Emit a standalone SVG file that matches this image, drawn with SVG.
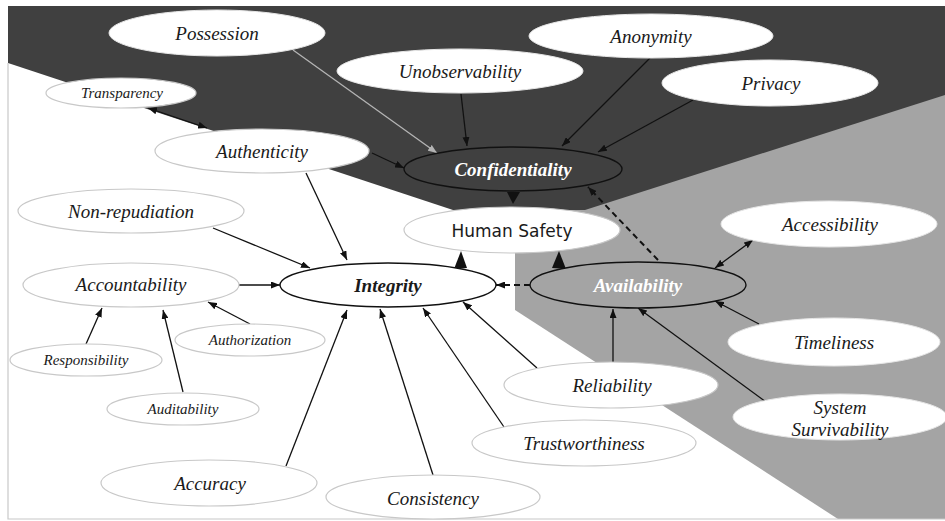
<svg xmlns="http://www.w3.org/2000/svg" width="945" height="521" viewBox="0 0 945 521">
<defs>
<style>
.t{font-family:"Liberation Serif","Times New Roman",serif;font-style:italic;font-size:19px;fill:#1a1a1a;text-anchor:middle}
.s{font-size:15px}
.b{font-weight:bold}
.lt{fill:#fff;stroke:#c8c8c8;stroke-width:1.2}
.wd{fill:#fff;stroke:#e6e6e6;stroke-width:1}
.main{stroke:#111;stroke-width:1.4}
.c{stroke:#111;stroke-width:1.3;fill:none}
.d{stroke:#111;stroke-width:2;stroke-dasharray:6,4;fill:none}
</style>
<marker id="a" viewBox="0 0 9 7" refX="9" refY="3.5" markerWidth="9" markerHeight="7" markerUnits="userSpaceOnUse" orient="auto-start-reverse"><path d="M0,0 L9,3.5 L0,7 z" fill="#111"/></marker>
<marker id="g" viewBox="0 0 9 7" refX="9" refY="3.5" markerWidth="9" markerHeight="7" markerUnits="userSpaceOnUse" orient="auto"><path d="M0,0 L9,3.5 L0,7 z" fill="#b4b4b4"/></marker>
</defs>
<rect x="0" y="0" width="945" height="521" fill="#fff"/>
<g id="background">
<polygon points="515,205 945,60 945,519 838,519 515,310" fill="#a4a4a4"/>
<polygon points="8,6 945,6 945,95 585,210 453,210 8,63" fill="#404040"/>
<polyline points="8,63 8,519 945,519" fill="none" stroke="#c8c8c8" stroke-width="1.2"/>
</g>
<g id="connectors">
<line x1="293" y1="50" x2="437" y2="153" stroke="#b4b4b4" stroke-width="1.3" marker-end="url(#g)"/>
<line class="c" x1="461" y1="94" x2="467" y2="146" marker-end="url(#a)"/>
<line class="c" x1="650" y1="58" x2="562" y2="146" marker-end="url(#a)"/>
<line class="c" x1="693" y1="100" x2="598" y2="152" marker-end="url(#a)"/>
<line class="c" x1="372" y1="153" x2="404" y2="168" marker-end="url(#a)"/>
<line class="c" x1="148" y1="108" x2="207" y2="128" marker-start="url(#a)" marker-end="url(#a)"/>
<line class="c" x1="306" y1="173" x2="347" y2="260" marker-end="url(#a)"/>
<line class="c" x1="213" y1="228" x2="310" y2="268" marker-end="url(#a)"/>
<line class="c" x1="239" y1="285" x2="280" y2="285" marker-end="url(#a)"/>
<line class="c" x1="86" y1="344" x2="102" y2="308" marker-end="url(#a)"/>
<line class="c" x1="183" y1="392" x2="163" y2="310" marker-end="url(#a)"/>
<line class="c" x1="250" y1="324" x2="208" y2="302" marker-end="url(#a)"/>
<line class="c" x1="286" y1="466" x2="347" y2="310" marker-end="url(#a)"/>
<line class="c" x1="433" y1="475" x2="380" y2="309" marker-end="url(#a)"/>
<line class="c" x1="504" y1="427" x2="423" y2="308" marker-end="url(#a)"/>
<line class="c" x1="537" y1="368" x2="463" y2="302" marker-end="url(#a)"/>
<line class="d" x1="530" y1="285" x2="496" y2="285" marker-end="url(#a)"/>
<line class="d" x1="658" y1="260" x2="588" y2="187" marker-end="url(#a)"/>
<line class="c" x1="613" y1="362" x2="613" y2="309" marker-end="url(#a)"/>
<line class="c" x1="766" y1="402" x2="638" y2="308" marker-end="url(#a)"/>
<line class="c" x1="759" y1="324" x2="715" y2="301" marker-end="url(#a)"/>
<line class="c" x1="753" y1="240" x2="715" y2="268" marker-start="url(#a)" marker-end="url(#a)"/>
<polygon points="507,192 520,192 513,204" fill="#111"/>
<polygon points="454,269 467,268 461,251" fill="#111"/>
<polygon points="552,268 566,269 559,251" fill="#111"/>
</g>
<g id="possession"><ellipse class="wd" cx="217" cy="33" rx="108" ry="23"/><text class="t" x="217" y="40">Possession</text></g>
<g id="transparency"><ellipse class="lt" cx="121" cy="93" rx="75" ry="15"/><text class="t s" x="122" y="98">Transparency</text></g>
<g id="unobservability"><ellipse class="wd" cx="460" cy="71" rx="123" ry="22"/><text class="t" x="460" y="78">Unobservability</text></g>
<g id="anonymity"><ellipse class="wd" cx="651" cy="36" rx="122" ry="22"/><text class="t" x="651" y="43">Anonymity</text></g>
<g id="privacy"><ellipse class="wd" cx="770" cy="83" rx="108" ry="23"/><text class="t" x="771" y="90">Privacy</text></g>
<g id="authenticity"><ellipse class="lt" cx="262" cy="151" rx="107" ry="22"/><text class="t" x="262" y="158">Authenticity</text></g>
<g id="confidentiality"><ellipse class="main" cx="513" cy="169" rx="109" ry="22" fill="#404040"/><text class="t b" x="513" y="176" style="fill:#fff">Confidentiality</text></g>
<g id="human-safety"><ellipse class="lt" cx="512" cy="230" rx="108" ry="23"/><text x="512" y="237" font-family="DejaVu Sans,Verdana,sans-serif" font-size="17" fill="#1a1a1a" text-anchor="middle">Human Safety</text></g>
<g id="non-repudiation"><ellipse class="lt" cx="131" cy="211" rx="113" ry="22"/><text class="t" x="131" y="218">Non-repudiation</text></g>
<g id="accountability"><ellipse class="lt" cx="131" cy="285" rx="108" ry="22"/><text class="t" x="131" y="291">Accountability</text></g>
<g id="integrity"><ellipse class="main" cx="388" cy="285" rx="108" ry="22" fill="#fff"/><text class="t b" x="388" y="292">Integrity</text></g>
<g id="availability"><ellipse class="main" cx="638" cy="285" rx="108" ry="23" fill="#a4a4a4"/><text class="t b" x="638" y="292" style="fill:#fff">Availability</text></g>
<g id="accessibility"><ellipse class="wd" cx="829" cy="224" rx="108" ry="23"/><text class="t" x="830" y="231">Accessibility</text></g>
<g id="timeliness"><ellipse class="wd" cx="834" cy="342" rx="106" ry="24"/><text class="t" x="834" y="349">Timeliness</text></g>
<g id="system-survivability"><ellipse class="wd" cx="840" cy="417" rx="107" ry="23"/><text class="t" x="840" y="414">System</text><text class="t" x="840" y="436">Survivability</text></g>
<g id="authorization"><ellipse class="lt" cx="250" cy="340" rx="75" ry="16"/><text class="t s" x="250" y="345">Authorization</text></g>
<g id="responsibility"><ellipse class="lt" cx="86" cy="360" rx="76" ry="16"/><text class="t s" x="86" y="365">Responsibility</text></g>
<g id="auditability"><ellipse class="lt" cx="183" cy="409" rx="76" ry="16"/><text class="t s" x="183" y="414">Auditability</text></g>
<g id="reliability"><ellipse class="lt" cx="611" cy="385" rx="107" ry="23"/><text class="t" x="612" y="392">Reliability</text></g>
<g id="trustworthiness"><ellipse class="lt" cx="584" cy="443" rx="112" ry="23"/><text class="t" x="584" y="450">Trustworthiness</text></g>
<g id="accuracy"><ellipse class="lt" cx="209" cy="483" rx="108" ry="23"/><text class="t" x="210" y="490">Accuracy</text></g>
<g id="consistency"><ellipse class="lt" cx="433" cy="497" rx="107" ry="22"/><text class="t" x="433" y="505">Consistency</text></g>
</svg>
